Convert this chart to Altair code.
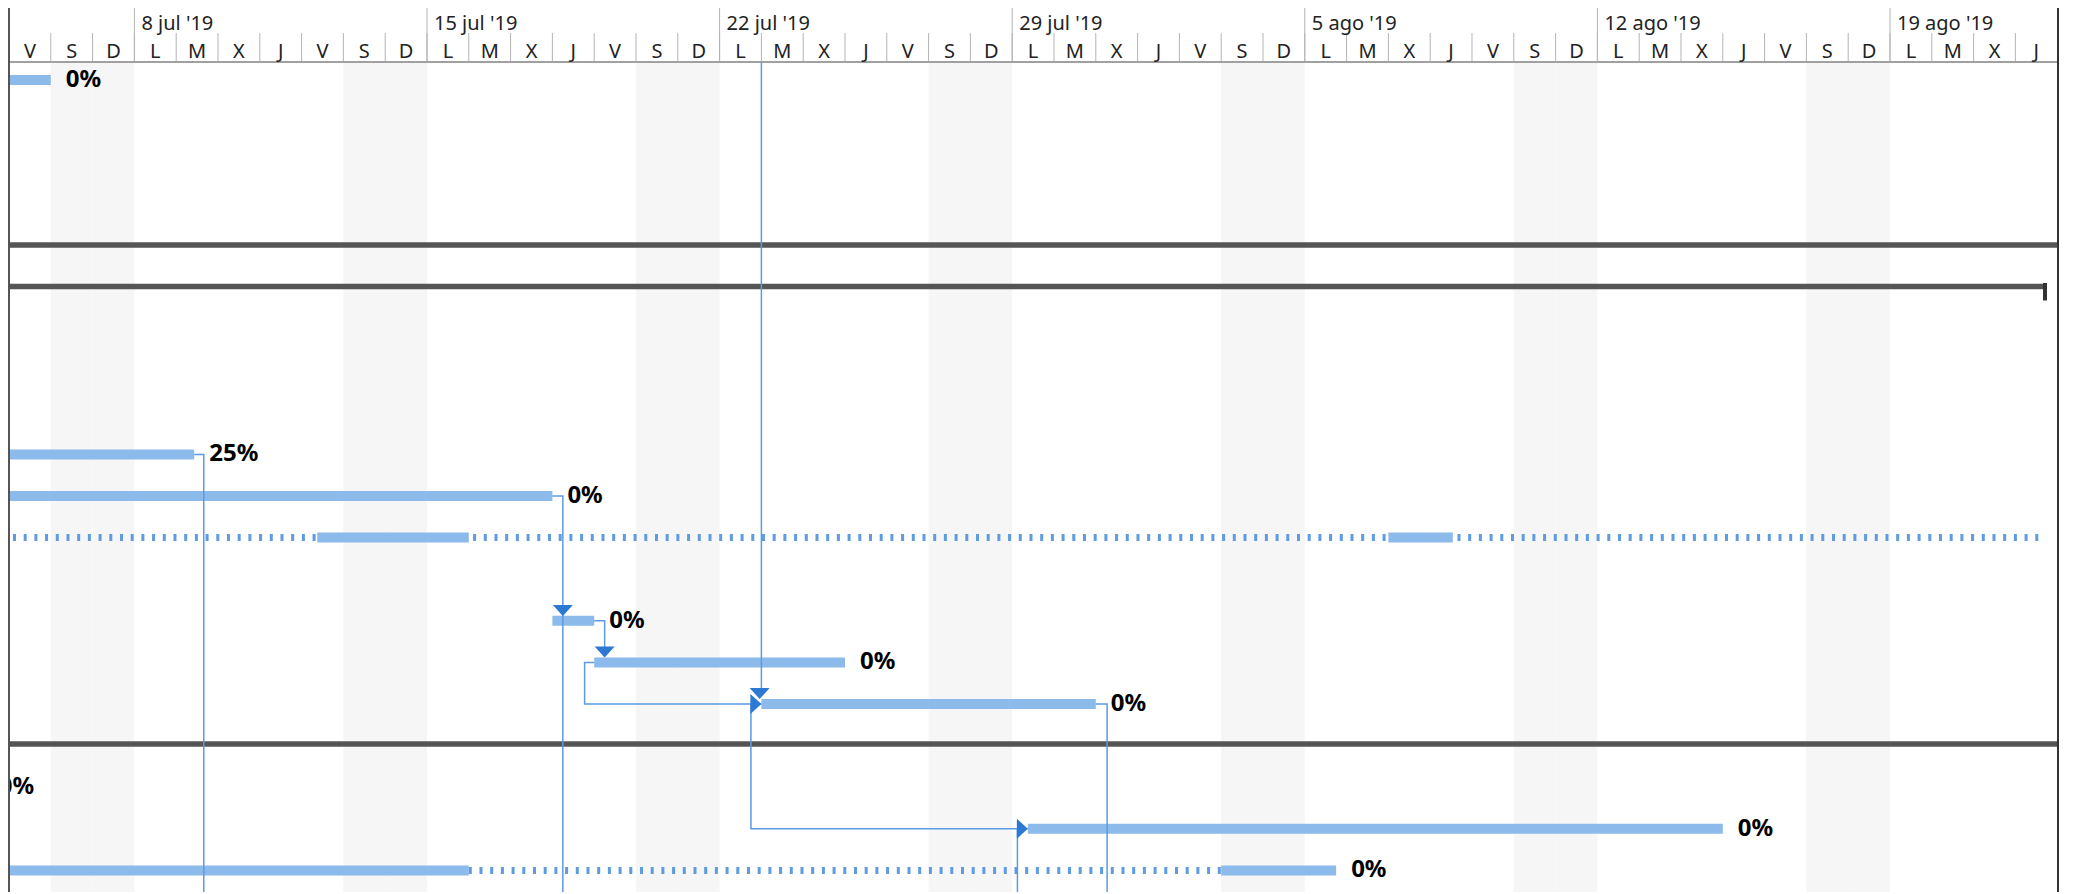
import altair as alt
import pandas as pd

# ---------------- data ----------------
day_letters = ["L", "M", "X", "J", "V", "S", "D"]          # Monday .. Sunday
calendar_start = "2019-07-05"
calendar_days = 49

week_starts = ["2019-07-08", "2019-07-15", "2019-07-22", "2019-07-29",
               "2019-08-05", "2019-08-12", "2019-08-19"]
week_labels = ["8 jul '19", "15 jul '19", "22 jul '19", "29 jul '19",
               "5 ago '19", "12 ago '19", "19 ago '19"]

# solid task bars (split tasks have several segments)
bar_rows = [0, 9, 10, 11, 11, 13, 14, 15, 18, 19, 19]
bar_starts = ["2019-07-01T00:00", "2019-07-01T00:00", "2019-07-01T00:00",
              "2019-07-12T09:00", "2019-08-07T00:00", "2019-07-18T00:00",
              "2019-07-19T00:00", "2019-07-23T00:00", "2019-07-29T09:00",
              "2019-07-01T00:00", "2019-08-03T00:00"]
bar_ends = ["2019-07-06T00:00", "2019-07-09T10:20", "2019-07-18T00:00",
            "2019-07-16T00:00", "2019-08-08T13:00", "2019-07-19T00:00",
            "2019-07-25T00:00", "2019-07-31T00:00", "2019-08-15T00:00",
            "2019-07-16T00:00", "2019-08-05T18:00"]

# dotted split gaps
gap_rows = [11, 19]
gap_starts = ["2019-07-01T00:00", "2019-07-16T00:00"]
gap_ends = ["2019-08-22T17:00", "2019-08-03T00:00"]

# percent-complete labels at task finish
label_rows = [0, 9, 10, 13, 14, 15, 17, 18, 19]
label_at = ["2019-07-06T00:00", "2019-07-09T10:20", "2019-07-18T00:00",
            "2019-07-19T00:00", "2019-07-25T00:00", "2019-07-31T00:00",
            "2019-07-04T09:30", "2019-08-15T00:00", "2019-08-05T18:00"]
label_text = ["0%", "25%", "0%", "0%", "0%", "0%", "0%", "0%", "0%"]

# summary tasks
summary_rows = [4, 5, 16]
summary_starts = ["2019-06-28T00:00", "2019-06-28T00:00", "2019-06-28T00:00"]
summary_ends = ["2019-08-30T00:00", "2019-08-22T17:00", "2019-08-30T00:00"]
summary_cap_at = ["2019-08-22T17:00"]
summary_cap_top = [4.88]
summary_cap_bottom = [5.3]

# dependency links: (link id, point order, time, row)
link_id = [1, 1,
           2, 2, 2,
           3, 3, 3,
           4, 4, 4,
           5, 5, 5, 5,
           6, 6, 6, 6,
           7, 7, 7,
           8, 8, 8]
link_order = [0, 1,
              0, 1, 2,
              0, 1, 2,
              0, 1, 2,
              0, 1, 2, 3,
              0, 1, 2, 3,
              0, 1, 2,
              0, 1, 2]
link_time = ["2019-07-23T00:00", "2019-07-23T00:00",
             "2019-07-09T10:20", "2019-07-09T15:50", "2019-07-09T15:50",
             "2019-07-18T00:00", "2019-07-18T06:00", "2019-07-18T06:00",
             "2019-07-19T00:00", "2019-07-19T06:00", "2019-07-19T06:00",
             "2019-07-19T00:00", "2019-07-18T18:30", "2019-07-18T18:30", "2019-07-22T20:00",
             "2019-07-23T00:00", "2019-07-22T18:00", "2019-07-22T18:00", "2019-07-29T05:00",
             "2019-07-29T09:00", "2019-07-29T03:00", "2019-07-29T03:00",
             "2019-07-31T00:00", "2019-07-31T06:30", "2019-07-31T06:30"]
link_row = [-0.43, 14.75,
            9, 9, 21,
            10, 10, 21,
            13, 13, 13.75,
            14, 14, 15, 15,
            15, 15, 18, 18,
            18, 18, 21,
            15, 15, 21]

arrow_down_time = ["2019-07-22T23:00", "2019-07-18T06:00", "2019-07-19T06:00"]
arrow_down_row = [14.75, 12.75, 13.75]
arrow_right_time = ["2019-07-22T20:50", "2019-07-29T05:50"]
arrow_right_row = [15, 18]

# ---------------- tables ----------------
days = pd.date_range(calendar_start, periods=calendar_days, freq="D")
days_df = pd.DataFrame({
    "day": days.strftime("%Y-%m-%dT%H:%M"),
    "mid": (days + pd.Timedelta(hours=12)).strftime("%Y-%m-%dT%H:%M"),
    "next": (days + pd.Timedelta(days=1)).strftime("%Y-%m-%dT%H:%M"),
    "letter": [day_letters[d.dayofweek] for d in days],
    "weekend": [bool(d.dayofweek >= 5) for d in days],
})
weekend_df = days_df[days_df["weekend"]]
weeks_df = pd.DataFrame({"start": [w + "T00:00" for w in week_starts], "label": week_labels})
bars_df = pd.DataFrame({"row": bar_rows, "start": bar_starts, "end": bar_ends})
gaps_df = pd.DataFrame({"row": gap_rows, "start": gap_starts, "end": gap_ends})
labels_df = pd.DataFrame({"row": label_rows, "at": label_at, "text": label_text})
summ_df = pd.DataFrame({"row": summary_rows, "start": summary_starts, "end": summary_ends})
cap_df = pd.DataFrame({"at": summary_cap_at, "row": summary_cap_top, "row2": summary_cap_bottom})
links_df = pd.DataFrame({"id": link_id, "order": link_order, "t": link_time, "row": link_row})
adown_df = pd.DataFrame({"t": arrow_down_time, "row": arrow_down_row})
aright_df = pd.DataFrame({"t": arrow_right_time, "row": arrow_right_row})

# ---------------- layout ----------------
W, H = 2051, 884
HEADER_BOTTOM = 54
ROW_PX = 41.6
d0 = -72 / ROW_PX
d1 = d0 + H / ROW_PX

xscale = alt.Scale(domain=[alt.DateTime(year=2019, month=7, date=4, hours=23, minutes=26),
                           alt.DateTime(year=2019, month=8, date=23, hours=1, minutes=2)])
yscale = alt.Scale(domain=[d0, d1], reverse=True, nice=False, zero=False)

FONT = "Noto Sans"
BAR = "#8cbaeb"
LINK = "#5b9be2"
ARROW = "#2b79d3"


def X(f):
    return alt.X(f, type="temporal", scale=xscale, axis=None)


def Y(f):
    return alt.Y(f, type="quantitative", scale=yscale, axis=None)


weekend = alt.Chart(weekend_df).mark_rect(color="#f6f6f6", clip=True).encode(
    x=X("day"), x2="next", y=alt.value(HEADER_BOTTOM), y2=alt.value(H))

day_sep = alt.Chart(days_df).mark_rule(color="#b4b4b4", strokeWidth=1, clip=True).encode(
    x=X("day"), y=alt.value(25), y2=alt.value(HEADER_BOTTOM))

week_sep = alt.Chart(weeks_df).mark_rule(color="#b4b4b4", strokeWidth=1, clip=True).encode(
    x=X("start"), y=alt.value(0), y2=alt.value(HEADER_BOTTOM))

header_line = alt.Chart(weeks_df).mark_rule(color="#a0a0a0", strokeWidth=1).encode(
    x=alt.value(0), x2=alt.value(W), y=alt.value(HEADER_BOTTOM))

week_text = alt.Chart(weeks_df).mark_text(
    align="left", baseline="middle", dx=7, font=FONT, fontSize=20, color="#222", clip=True
).encode(x=X("start"), y=alt.value(16), text="label:N")

day_text = alt.Chart(days_df).mark_text(
    align="center", baseline="middle", font=FONT, fontSize=20, color="#222", clip=True
).encode(x=X("mid"), y=alt.value(44), text="letter:N")

summary = alt.Chart(summ_df).mark_rule(color="#555555", strokeWidth=5.5, strokeCap="butt",
                                       clip=True, yOffset=-1.5).encode(
    x=X("start"), x2="end", y=Y("row"))

cap = alt.Chart(cap_df).mark_rule(color="#333333", strokeWidth=4, strokeCap="butt", clip=True).encode(
    x=X("at"), y=Y("row"), y2="row2")

gaps = alt.Chart(gaps_df).mark_rule(color="#5e9be0", strokeWidth=7, strokeDash=[3, 7.7],
                                    strokeCap="butt", clip=True).encode(
    x=X("start"), x2="end", y=Y("row"))

bars = alt.Chart(bars_df).mark_rule(color=BAR, strokeWidth=10, strokeCap="butt", clip=True).encode(
    x=X("start"), x2="end", y=Y("row"))

links = alt.Chart(links_df).mark_line(color=LINK, strokeWidth=1.5, clip=True).encode(
    x=X("t"), y=Y("row"), detail="id:N", order="order:Q")

arrows_down = alt.Chart(adown_df).mark_point(
    shape="M-1,-0.55L1,-0.55L0,0.55Z", filled=True, size=400, color=ARROW, opacity=1, clip=True
).encode(x=X("t"), y=Y("row"))

arrows_right = alt.Chart(aright_df).mark_point(
    shape="M-0.55,-1L0.55,0L-0.55,1Z", filled=True, size=400, color=ARROW, opacity=1, clip=True
).encode(x=X("t"), y=Y("row"))

labels = alt.Chart(labels_df).mark_text(
    align="left", baseline="middle", dx=15, font=FONT, fontSize=24, fontWeight="bold",
    color="#000000", clip=True
).encode(x=X("at"), y=Y("row"), text="text:N")

left_border = alt.Chart(weeks_df).mark_rule(color="#555555", strokeWidth=1.5).encode(
    x=alt.value(0.75), y=alt.value(0), y2=alt.value(H))
right_border = alt.Chart(weeks_df).mark_rule(color="#333333", strokeWidth=1.5).encode(
    x=alt.value(W - 0.75), y=alt.value(0), y2=alt.value(H))

chart = alt.layer(
    weekend, day_sep, week_sep, header_line, week_text, day_text,
    summary, cap, gaps, bars, links, arrows_down, arrows_right, labels,
    left_border, right_border
).properties(
    width=W, height=H, padding=0, autosize="none"
).configure_view(stroke=None)

chart.save("out.html", embed_options={"renderer": "svg", "actions": False})
